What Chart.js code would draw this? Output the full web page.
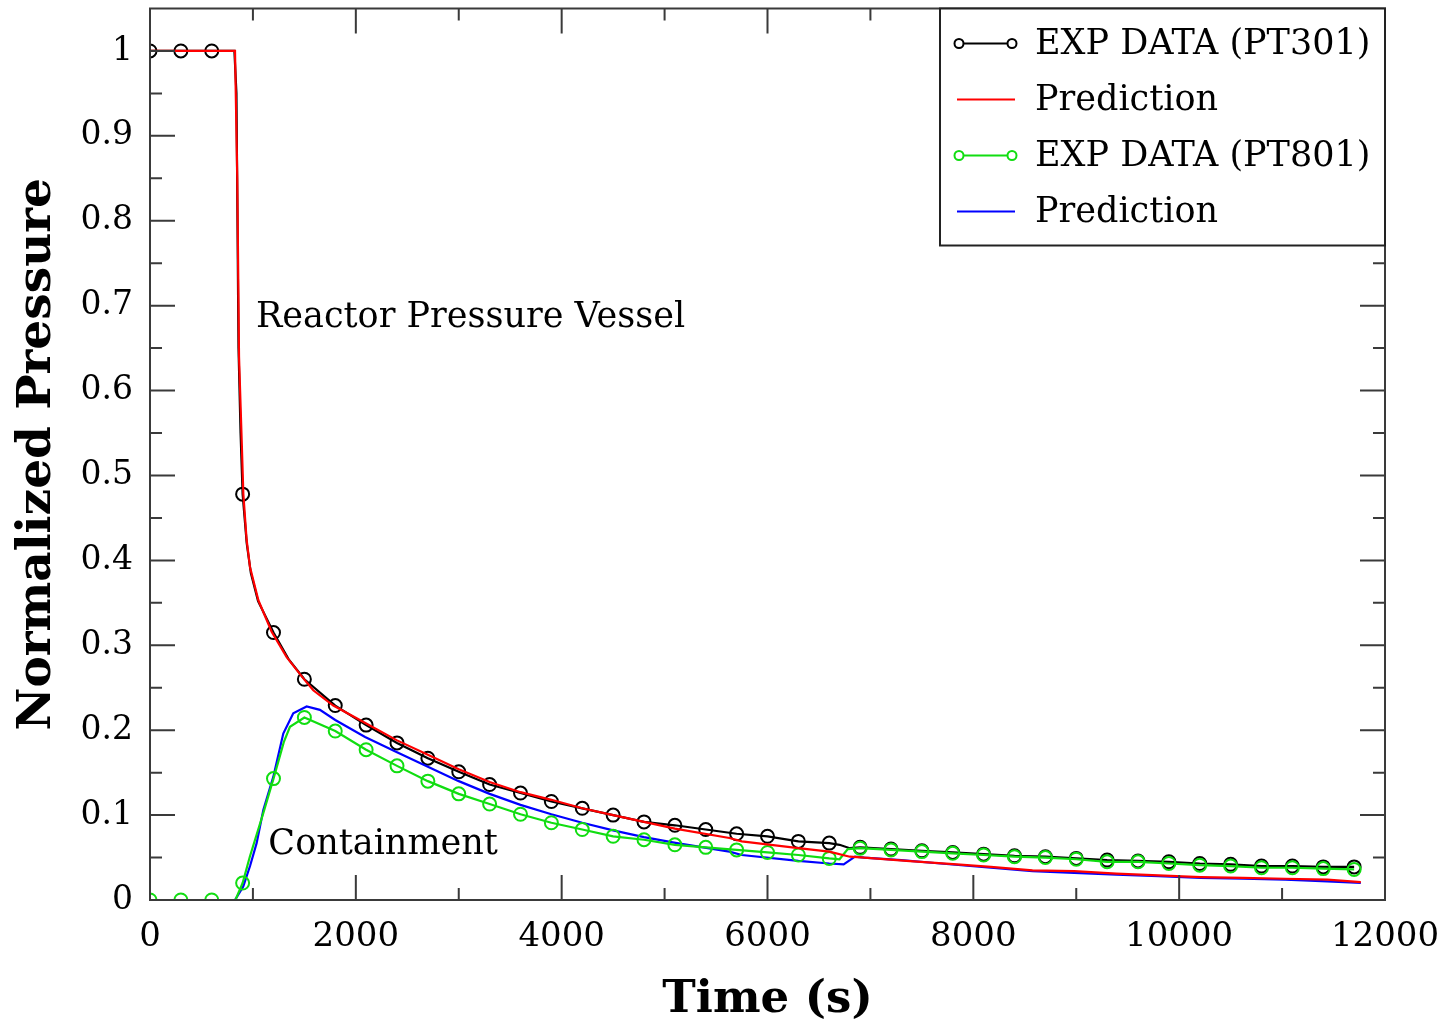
<!DOCTYPE html>
<html>
<head>
<meta charset="utf-8">
<title>Normalized Pressure</title>
<script src="https://cdn.jsdelivr.net/npm/chart.js@4.4.0/dist/chart.umd.min.js"></script>
<style>
	html, body { margin: 0; padding: 0; background: #fff; }
	#chart { display: block; }
</style>
</head>
<body>
<canvas id="chart" width="1445" height="1029"></canvas>
<script>
//======================================================================================================
// Data: time (s) and normalized pressure
//======================================================================================================
var pt301Time  = [0, 300, 600, 820, 840, 860, 880, 900, 940, 980, 1050, 1200, 1350, 1500, 1800, 2100, 2400, 2700,
                  3000, 3300, 3600, 3900, 4200, 4500, 4800, 5100, 5400, 5700, 6000, 6300, 6600, 6700, 6800, 6900,
                  7200, 7500, 7800, 8100, 8400, 8700, 9000, 9300, 9600, 9900, 10200, 10500, 10800, 11100, 11400, 11700];
var pt301Value = [1, 1, 1, 1, 0.95, 0.65, 0.55, 0.478, 0.42, 0.385, 0.352, 0.315, 0.283, 0.26, 0.229, 0.206, 0.185, 0.167,
                  0.151, 0.136, 0.126, 0.116, 0.108, 0.100, 0.092, 0.088, 0.083, 0.078, 0.075, 0.069, 0.067, 0.065, 0.061, 0.062,
                  0.060, 0.058, 0.056, 0.054, 0.052, 0.051, 0.049, 0.047, 0.046, 0.045, 0.043, 0.042, 0.040, 0.040, 0.039, 0.039];

var rpvPredTime  = [0, 826, 848, 865, 891, 907, 939, 972, 1053, 1182, 1328, 1490, 1586, 1781, 2008, 2400, 2700, 3000,
                    3300, 3600, 3900, 4200, 4500, 4800, 5100, 5630, 5750, 6300, 6600, 6800, 6940, 7350, 7840, 8170,
                    8575, 8980, 9390, 9800, 10210, 10620, 11030, 11440, 11765];
var rpvPredValue = [1, 1, 0.85, 0.64, 0.541, 0.478, 0.424, 0.392, 0.353, 0.316, 0.286, 0.261, 0.247, 0.229, 0.214, 0.188, 0.171, 0.154,
                    0.139, 0.127, 0.118, 0.108, 0.100, 0.092, 0.084, 0.073, 0.069, 0.061, 0.057, 0.051, 0.050, 0.046, 0.042, 0.039,
                    0.035, 0.034, 0.031, 0.029, 0.027, 0.026, 0.025, 0.024, 0.021];

var pt801Time  = [0, 300, 600, 830, 900, 970, 1100, 1200, 1300, 1360, 1500, 1800, 2100, 2400, 2700, 3000, 3300, 3600,
                  3900, 4200, 4500, 4800, 5100, 5400, 5700, 6000, 6300, 6600, 6700, 6780, 6900, 7200, 7500, 7800,
                  8100, 8400, 8700, 9000, 9300, 9600, 9900, 10200, 10500, 10800, 11100, 11400, 11700];
var pt801Value = [0, 0, 0, 0, 0.02, 0.051, 0.102, 0.143, 0.186, 0.204, 0.215, 0.199, 0.177, 0.158, 0.140, 0.125, 0.113, 0.101,
                  0.091, 0.083, 0.075, 0.071, 0.065, 0.062, 0.059, 0.056, 0.053, 0.049, 0.048, 0.060, 0.061, 0.059, 0.057, 0.055,
                  0.053, 0.051, 0.050, 0.048, 0.045, 0.045, 0.043, 0.041, 0.040, 0.038, 0.038, 0.037, 0.036];

var ctmPredTime  = [0, 826, 906, 972, 1036, 1101, 1198, 1295, 1392, 1522, 1651, 1800, 2090, 2400, 2700, 3000, 3300, 3600,
                    3900, 4200, 4500, 4800, 5120, 5630, 5750, 6300, 6600, 6740, 6850, 6940, 7300, 7680, 8170, 8575,
                    8980, 9390, 9800, 10210, 10620, 11030, 11440, 11765];
var ctmPredValue = [0, 0, 0.016, 0.04, 0.067, 0.106, 0.145, 0.196, 0.22, 0.228, 0.224, 0.212, 0.192, 0.174, 0.157, 0.140, 0.125, 0.112,
                    0.101, 0.091, 0.082, 0.074, 0.067, 0.057, 0.053, 0.046, 0.043, 0.042, 0.051, 0.050, 0.047, 0.043, 0.038, 0.034,
                    0.032, 0.030, 0.028, 0.026, 0.025, 0.024, 0.022, 0.020];

var seriesLabels = ["EXP DATA (PT301)", "Prediction", "EXP DATA (PT801)", "Prediction"];
var xTickValues  = [0, 2000, 4000, 6000, 8000, 10000, 12000];
var yTickValues  = [0, 0.1, 0.2, 0.3, 0.4, 0.5, 0.6, 0.7, 0.8, 0.9, 1];
var regionLabels = ["Reactor Pressure Vessel", "Containment"];
var regionTime   = [1030, 1150];
var regionValue  = [0.685, 0.065];

var MARKER_EVERY = 300;
var SERIF = "'DejaVu Serif', serif";

function toPoints(t, v)
{
	var pts = [];
	for (var i = 0; i < t.length; i++)
		pts.push({x: t[i], y: v[i]});
	return pts;
}

// Circles only on the logged samples (every 300 s), not on the extra points of the steep drop
function markerRadius(ctx)
{
	return (ctx.raw && ctx.raw.x % MARKER_EVERY === 0) ? 6.5 : 0;
}

//======================================================================================================
// Plugins: frame with inward ticks, region labels and the boxed legend
//======================================================================================================
var frameTicks = {
	id: 'frameTicks',
	afterDatasetsDraw: function(chart) {
		var ctx = chart.ctx, a = chart.chartArea, x = chart.scales.x, y = chart.scales.y;
		ctx.save();
		ctx.strokeStyle = '#3a3a3a';
		ctx.lineWidth = 2;
		ctx.beginPath();
		for (var i = 0; i < xTickValues.length - 1; i++)
		{
			var major = x.getPixelForValue(xTickValues[i]);
			var minor = x.getPixelForValue((xTickValues[i] + xTickValues[i + 1]) / 2);
			if (i > 0)
			{
				ctx.moveTo(major, a.bottom); ctx.lineTo(major, a.bottom - 25);
				ctx.moveTo(major, a.top);    ctx.lineTo(major, a.top + 25);
			}
			ctx.moveTo(minor, a.bottom); ctx.lineTo(minor, a.bottom - 12);
			ctx.moveTo(minor, a.top);    ctx.lineTo(minor, a.top + 12);
		}
		for (var j = 0; j < yTickValues.length; j++)
		{
			var py = y.getPixelForValue(yTickValues[j]);
			var pm = y.getPixelForValue(yTickValues[j] + 0.05);
			if (j > 0)
			{
				ctx.moveTo(a.left, py);  ctx.lineTo(a.left + 25, py);
				ctx.moveTo(a.right, py); ctx.lineTo(a.right - 25, py);
			}
			if (pm > a.top + 2)
			{
				ctx.moveTo(a.left, pm);  ctx.lineTo(a.left + 12, pm);
				ctx.moveTo(a.right, pm); ctx.lineTo(a.right - 12, pm);
			}
		}
		ctx.stroke();
		ctx.strokeRect(a.left, a.top, a.right - a.left, a.bottom - a.top);

		// region labels
		ctx.fillStyle = '#000';
		ctx.font = "35px " + SERIF;
		ctx.textAlign = 'left';
		ctx.textBaseline = 'middle';
		for (var k = 0; k < regionLabels.length; k++)
			ctx.fillText(regionLabels[k], x.getPixelForValue(regionTime[k]), y.getPixelForValue(regionValue[k]));
		ctx.restore();
	}
};

var boxLegend = {
	id: 'boxLegend',
	afterDraw: function(chart) {
		var ctx = chart.ctx, a = chart.chartArea;
		var w = 445, h = 237, left = a.right - w, top = a.top;
		ctx.save();
		ctx.fillStyle = '#fff';
		ctx.fillRect(left, top, w, h);
		ctx.strokeStyle = '#222';
		ctx.lineWidth = 2;
		ctx.strokeRect(left, top, w, h);
		ctx.font = "35px " + SERIF;
		ctx.textAlign = 'left';
		ctx.textBaseline = 'middle';
		chart.data.datasets.forEach(function(ds, i) {
			var cy = top + 35 + i * 56;
			ctx.strokeStyle = ds.borderColor;
			ctx.lineWidth = 2;
			ctx.beginPath();
			ctx.moveTo(left + 17, cy);
			ctx.lineTo(left + 75, cy);
			ctx.stroke();
			if (ds.hasMarkers)
			{
				ctx.fillStyle = '#fff';
				[left + 19, left + 72].forEach(function(cx) {
					ctx.beginPath();
					ctx.arc(cx, cy, 4.5, 0, Math.PI * 2);
					ctx.fill();
					ctx.stroke();
				});
			}
			ctx.fillStyle = '#000';
			ctx.fillText(ds.label, left + 95, cy + 1);
		});
		ctx.restore();
	}
};

//======================================================================================================
// Chart
//======================================================================================================
function Init_Chart()
{
	var lineStyle = function(label, color, pts, markers, order) {
		return {
			label: label,
			data: pts,
			borderColor: color,
			backgroundColor: 'rgba(255,255,255,0)',
			borderWidth: 2.2,
			pointRadius: markers ? markerRadius : 0,
			pointBorderWidth: 2,
			pointBorderColor: color,
			pointBackgroundColor: 'rgba(255,255,255,0)',
			tension: 0,
			fill: false,
			order: order,
			hasMarkers: markers
		};
	};

	new Chart(document.getElementById("chart"), {
		type: "line",
		data: {
			datasets: [
				lineStyle(seriesLabels[0], '#000000', toPoints(pt301Time, pt301Value), true, 3),
				lineStyle(seriesLabels[1], '#ff0000', toPoints(rpvPredTime, rpvPredValue), false, 0),
				lineStyle(seriesLabels[2], '#11dd11', toPoints(pt801Time, pt801Value), true, 1),
				lineStyle(seriesLabels[3], '#0000ff', toPoints(ctmPredTime, ctmPredValue), false, 2)
			]
		},
		options: {
			responsive: false,
			animation: false,
			devicePixelRatio: 1,
			layout: { padding: { left: 0, top: 8, right: 60, bottom: 0 } },
			plugins: {
				legend: { display: false },
				tooltip: { enabled: false }
			},
			scales: {
				x: {
					type: 'linear',
					min: 0,
					max: 12000,
					afterFit: function(s) { s.height = 129; s.paddingLeft = 0; s.paddingRight = 0; },
					afterBuildTicks: function(s) { s.ticks = xTickValues.map(function(v) { return {value: v}; }); },
					grid: { display: false, drawTicks: false },
					border: { display: false },
					ticks: {
						padding: 17,
						color: '#000',
						maxRotation: 0,
						font: { family: SERIF, size: 34 },
						callback: function(v) { return String(v); }
					},
					title: {
						display: true,
						text: 'Time (s)',
						color: '#000',
						font: { family: SERIF, size: 45, weight: 'bold' },
						padding: { top: 0, bottom: 2 }
					}
				},
				y: {
					min: 0,
					max: 1.05,
					afterFit: function(s) { s.width = 150; s.paddingTop = 0; s.paddingBottom = 0; },
					afterBuildTicks: function(s) { s.ticks = yTickValues.map(function(v) { return {value: v}; }); },
					grid: { display: false, drawTicks: false },
					border: { display: false },
					ticks: {
						padding: 17,
						color: '#000',
						font: { family: SERIF, size: 33 },
						callback: function(v) { return String(Math.round(v * 10) / 10); }
					},
					title: {
						display: true,
						text: 'Normalized Pressure',
						color: '#000',
						font: { family: SERIF, size: 47, weight: 'bold' },
						padding: { top: 10, bottom: 0 }
					}
				}
			}
		},
		plugins: [frameTicks, boxLegend]
	});
}

Init_Chart();
</script>
</body>
</html>
